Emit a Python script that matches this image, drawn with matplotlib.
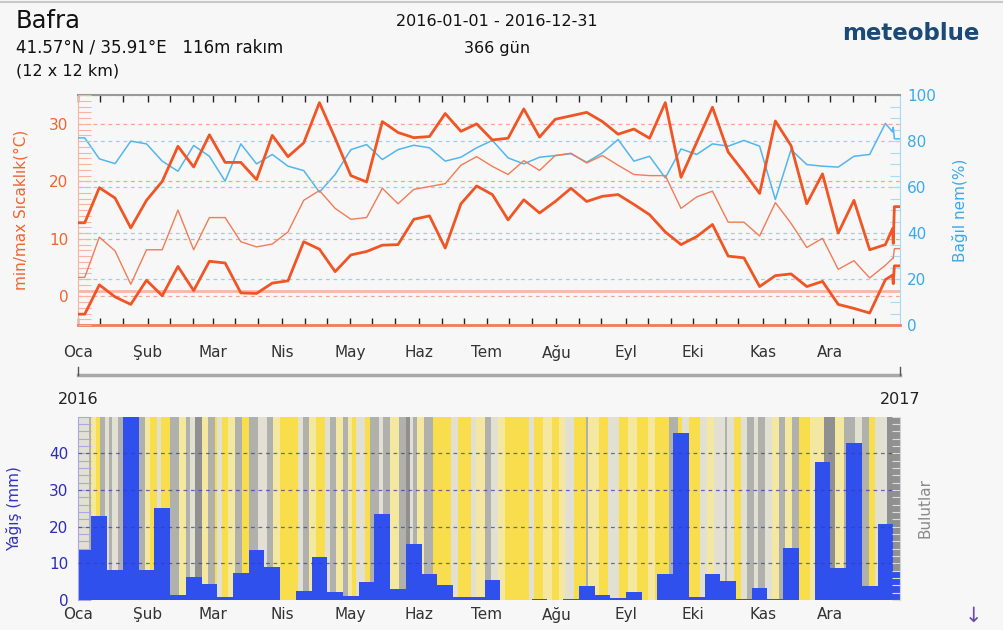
import numpy as np
import matplotlib
matplotlib.use('Agg')
import matplotlib.pyplot as plt
from matplotlib.colors import ListedColormap
from matplotlib.lines import Line2D
from matplotlib.ticker import FixedLocator, MultipleLocator

# Aylar
aylar = ['Oca', 'Şub', 'Mar', 'Nis', 'May', 'Haz', 'Tem', 'Ağu', 'Eyl', 'Eki', 'Kas', 'Ara']
ay_baslangic = [0, 31, 60, 91, 121, 152, 182, 213, 244, 274, 305, 335]

# Haftalik kutular (gun indeksi)
hafta_kenar = np.r_[0, np.arange(6, 366, 7), 366]
hafta_orta = (hafta_kenar[:-1] + hafta_kenar[1:]) / 2
son_gunler = [362.7, 363.0, 363.5, 366.0]   # yilin son kismi

# Sicaklik (haftalik, °C)
t_max = [12.8, 18.9, 17.1, 11.9, 16.7, 20.0, 26.1, 22.5, 28.1, 23.3, 23.3, 20.3, 28.0,
         24.3, 26.7, 33.7, 27.5, 21.0, 19.9, 30.4, 28.5, 27.6, 27.8, 31.8, 28.7, 30.0,
         27.2, 27.5, 32.6, 27.7, 30.8, 31.4, 32.0, 30.4, 28.2, 29.1, 27.5, 33.7, 20.7,
         26.8, 32.9, 25.1, 21.6, 17.9, 30.5, 26.2, 16.1, 21.3, 11.0, 16.7, 8.1, 9.0]
t_max_son = [11.8, 9.2, 15.6, 15.6]
t_ort = [3.3, 10.3, 7.9, 2.1, 8.1, 8.1, 15.0, 8.1, 13.7, 13.7, 9.5, 8.6, 9.1,
         11.2, 16.7, 18.4, 15.3, 13.4, 13.7, 18.8, 16.1, 18.6, 19.1, 19.6, 22.8, 24.3,
         22.6, 21.2, 23.6, 21.9, 24.5, 24.9, 23.2, 24.5, 22.8, 21.2, 21.0, 21.0, 15.3,
         17.3, 18.3, 12.9, 12.9, 10.5, 16.3, 12.7, 8.5, 10.1, 4.7, 6.2, 3.2, 5.4]
t_ort_son = [6.6, 6.6, 8.3, 8.3]
t_min = [-3.1, 2.0, -0.1, -1.4, 2.8, 0.1, 5.2, 1.0, 6.1, 5.8, 0.6, 0.5, 2.3,
         2.7, 9.5, 8.2, 4.3, 7.2, 7.8, 8.9, 9.0, 13.4, 14.0, 8.4, 16.1, 19.2,
         17.7, 13.3, 16.8, 14.5, 16.5, 18.8, 16.5, 17.4, 17.7, 16.0, 14.2, 11.2, 9.0,
         10.4, 12.5, 7.0, 6.7, 1.7, 3.6, 3.9, 1.7, 2.6, -1.4, -2.1, -2.9, 2.9]
t_min_son = [3.7, 2.2, 5.3, 5.3]

# Bagil nem (%)
nem = [81.4, 72.3, 70.2, 80.0, 78.8, 71.3, 66.9, 78.1, 73.4, 62.6, 78.8, 70.1, 74.2,
       69.1, 67.2, 57.8, 65.5, 76.3, 78.5, 72.0, 76.3, 78.2, 77.1, 71.3, 73.0, 77.1,
       80.3, 72.7, 70.1, 73.0, 73.7, 74.5, 70.8, 74.9, 80.7, 71.3, 73.4, 64.0, 76.6,
       74.2, 78.8, 77.8, 80.3, 77.8, 54.6, 76.3, 69.8, 69.1, 68.7, 73.4, 74.2, 87.7]
nem_son = [84.0, 86.0, 81.0, 81.0]

# Yagis (mm, haftalik)
yagis = [13.7, 23.0, 8.2, 50.0, 8.3, 25.0, 1.3, 6.3, 4.3, 0.9, 7.3, 13.7, 8.9,
         0.0, 2.5, 11.6, 2.1, 1.1, 4.9, 23.5, 3.0, 15.4, 7.2, 4.1, 0.9, 0.9,
         5.4, 0.0, 0.0, 0.2, 0.0, 0.2, 3.8, 1.3, 0.6, 2.1, 0.0, 7.0, 45.6,
         0.9, 7.0, 5.1, 0.2, 3.2, 0.2, 14.3, 0.0, 37.6, 8.8, 42.7, 3.8, 20.8, 7.9]

# Bulutluluk (0 = gunesli ... 4 = kapali), (kod, gun sayisi)
bulut_seri = [(2, 5), (3, 1), (1, 2), (0, 2), (3, 2), (2, 2), (3, 1), (2, 3), (3, 2), (3, 3),
              (2, 2), (3, 3), (3, 2), (1, 2), (0, 3), (2, 2), (0, 4), (3, 4), (1, 3), (3, 2),
              (2, 2), (4, 3), (1, 3), (3, 3), (0, 1), (2, 2), (0, 3), (1, 3), (3, 3), (0, 3),
              (3, 4), (2, 4), (3, 3), (1, 3), (0, 8), (2, 2), (3, 3), (1, 3), (0, 4), (2, 2),
              (3, 3), (1, 3), (3, 2), (1, 2), (0, 2), (2, 4), (0, 2), (3, 4), (2, 2), (3, 3),
              (1, 4), (3, 3), (4, 2), (2, 1), (3, 2), (1, 3), (3, 4), (0, 8), (2, 3), (0, 6),
              (2, 2), (1, 4), (3, 3), (2, 3), (1, 3), (0, 11), (2, 2), (0, 4), (1, 4), (0, 3),
              (1, 3), (2, 4), (0, 5), (3, 1), (1, 5), (0, 4), (2, 5), (0, 4), (1, 4), (0, 5),
              (1, 3), (0, 6), (3, 4), (0, 2), (2, 3), (0, 5), (2, 3), (1, 3), (2, 5), (3, 1),
              (2, 3), (0, 3), (2, 3), (3, 3), (2, 2), (3, 3), (2, 3), (1, 3), (3, 3), (1, 3),
              (3, 3), (0, 5), (1, 6), (4, 5), (1, 4), (3, 5), (2, 3), (3, 3), (0, 3), (2, 5),
              (4, 6)]
bulut_renk = ['#f8de4c', '#f4e8a0', '#e2dfd3', '#b0b0ad', '#909090']

BG = '#f7f7f7'
TURUNCU = '#f05523'
TURUNCU_INCE = '#f37b55'
MAVI = '#52b6ee'

fig = plt.figure(figsize=(10.04, 6.30), dpi=100, facecolor=BG)

# ---------------- Ust panel: sicaklik + nem ----------------
ax_nem = fig.add_axes([0.0777, 0.484, 0.8187, 0.365], facecolor=BG)
ax1 = ax_nem.twinx()
ax1.set_zorder(ax_nem.get_zorder() + 1)
ax1.patch.set_visible(False)
# ax1 -> sol eksen (sicaklik), ax_nem -> sag eksen (nem)
ax1.yaxis.tick_left()
ax1.yaxis.set_label_position('left')
ax_nem.yaxis.tick_right()
ax_nem.yaxis.set_label_position('right')

ax1.set_xlim(0, 366)
ax1.set_ylim(-5, 35)
ax_nem.set_ylim(0, 100)

gun_t = np.r_[0, hafta_orta[:len(t_max)], son_gunler]

for h in [20, 40, 60, 80, 100]:
    ax_nem.axhline(h, color='#92d2f5', lw=0.9, ls=(0, (3, 3)), zorder=1)
ax_nem.plot(gun_t, np.r_[nem[0], nem, nem_son], color=MAVI, lw=1.1, zorder=3)

for t in [0, 10, 20, 30]:
    ax1.axhline(t, color='#f6a58c', lw=0.9, ls=(0, (3, 3)), zorder=1)
ax1.axhline(1.0, color='#f8b8a2', lw=2.0, zorder=1)

ax1.plot(gun_t, np.r_[t_ort[0], t_ort, t_ort_son], color=TURUNCU_INCE, lw=1.0, zorder=3)
ax1.plot(gun_t, np.r_[t_max[0], t_max, t_max_son], color=TURUNCU, lw=2.0, zorder=4)
ax1.plot(gun_t, np.r_[t_min[0], t_min, t_min_son], color=TURUNCU, lw=2.0, zorder=4)

# x ekseni
ara_gunler = [b + d for b in ay_baslangic for d in (10, 20)]
for a in (ax1, ax_nem):
    a.xaxis.set_major_locator(FixedLocator(ay_baslangic))
    a.xaxis.set_minor_locator(FixedLocator(ara_gunler))
ax_nem.set_xticklabels(aylar)
ax_nem.tick_params(axis='x', which='both', direction='in', top=True, bottom=True,
                   length=5, width=1, color='#222222', labelsize=11, pad=14,
                   labelcolor='#333333')

# sol eksen (sicaklik)
ax1.set_yticks([0, 10, 20, 30])
ax1.yaxis.set_minor_locator(MultipleLocator(1))
ax1.tick_params(axis='y', which='both', direction='in', length=9, width=0.8,
                color='#f9b4a0', labelcolor='#f06432', labelsize=11, pad=7)
ax1.set_ylabel('min/max Sıcaklık(°C)', color='#f06432', fontsize=11)
ax1.yaxis.set_label_coords(-0.060, 0.5)

# sag eksen (nem)
ax_nem.set_yticks([0, 20, 40, 60, 80, 100])
ax_nem.yaxis.set_minor_locator(MultipleLocator(5))
ax_nem.tick_params(axis='y', which='both', direction='in', length=7, width=0.8,
                   color='#a6dbf5', labelcolor='#3aa9ee', labelsize=11, pad=5)
ax_nem.set_ylabel('Bağıl nem(%)', color='#3aa9ee', fontsize=11)
ax_nem.yaxis.set_label_coords(1.063, 0.5)

for s in ['left', 'right', 'top', 'bottom']:
    ax1.spines[s].set_visible(False)
ax_nem.spines['left'].set_color('#f9b4a0')
ax_nem.spines['right'].set_color('#a6dbf5')
ax_nem.spines['top'].set_color('#999999')
ax_nem.spines['top'].set_linewidth(1.5)
ax_nem.spines['bottom'].set_color(TURUNCU_INCE)
ax_nem.spines['bottom'].set_linewidth(2.0)

# ---------------- Alt panel: yagis + bulutlar ----------------
ax2 = fig.add_axes([0.0777, 0.0476, 0.8187, 0.291], facecolor=BG)
ax2.set_xlim(0, 366)
ax2.set_ylim(0, 50)

bulut_kod = np.concatenate([np.full(n, k) for k, n in bulut_seri])
ax2.pcolormesh(np.arange(len(bulut_kod) + 1), [0, 50], bulut_kod[None, :],
               cmap=ListedColormap(bulut_renk), vmin=-0.5, vmax=4.5, zorder=0)

ax2.bar(hafta_kenar[:-1], yagis, width=np.diff(hafta_kenar), align='edge',
        color='#3050ee', linewidth=0, zorder=2)

for y in [10, 20, 30, 40]:
    ax2.axhline(y, color='#3a3ab8', lw=0.9, ls=(0, (3, 3)), alpha=0.75, zorder=3)

ax2.set_xticks(ay_baslangic)
ax2.set_xticklabels(aylar)
ax2.tick_params(axis='x', length=0, labelsize=11, pad=5, labelcolor='#333333')
ax2.set_yticks([0, 10, 20, 30, 40])
ax2.yaxis.set_minor_locator(MultipleLocator(2))
ax2.tick_params(axis='y', which='both', direction='in', length=9, width=0.8,
                color='#a9a9e2', labelcolor='#2c2cb8', labelsize=11, pad=7)
ax2.set_ylabel('Yağış (mm)', color='#3434c0', fontsize=11)
ax2.yaxis.set_label_coords(-0.0675, 0.5)
for s in ['top', 'bottom']:
    ax2.spines[s].set_visible(False)
ax2.spines['left'].set_color('#a9a9e2')
ax2.spines['right'].set_color('#d0d0d0')

ax2r = ax2.twinx()
ax2r.set_ylim(0, 50)
ax2r.yaxis.set_major_locator(MultipleLocator(2))
ax2r.tick_params(axis='y', direction='in', length=6, width=0.8, color='#dcdcdc',
                 labelright=False)
for s in ['top', 'bottom', 'left', 'right']:
    ax2r.spines[s].set_visible(False)

ax2.text(1.030, 0.5, 'Bulutlar', transform=ax2.transAxes, rotation=90,
         ha='center', va='center', color='#8a8a8a', fontsize=11)

# ---------------- Basliklar ve zaman cubugu ----------------
W, H = 1004, 630
fig.add_artist(Line2D([0, 1], [1 - 2 / H] * 2, color='#c8c8c8', lw=1.5))
fig.text(16 / W, 1 - 21 / H, 'Bafra', fontsize=17.5, color='#111111', va='center')
fig.text(16 / W, 1 - 48 / H, '41.57°N / 35.91°E   116m rakım', fontsize=12,
         color='#111111', va='center')
fig.text(16 / W, 1 - 71 / H, '(12 x 12 km)', fontsize=11.5, color='#111111', va='center')
fig.text(497 / W, 1 - 21 / H, '2016-01-01 - 2016-12-31', fontsize=11.5,
         color='#111111', ha='center', va='center')
fig.text(497 / W, 1 - 48 / H, '366 gün', fontsize=11.5, color='#111111',
         ha='center', va='center')
fig.text(911 / W, 1 - 34 / H, 'meteoblue', fontsize=16.5, fontweight='bold',
         color='#1c4a78', ha='center', va='center')

y_cubuk = 1 - 375 / H
fig.add_artist(Line2D([78 / W, 900 / W], [y_cubuk] * 2, color='#a8a8a8', lw=2.5))
for xc in (78 / W, 900 / W):
    fig.add_artist(Line2D([xc, xc], [y_cubuk, y_cubuk + 8 / H], color='#555555', lw=1))
fig.text(78 / W, 1 - 400 / H, '2016', fontsize=11.5, color='#222222',
         ha='center', va='center')
fig.text(900 / W, 1 - 400 / H, '2017', fontsize=11.5, color='#222222',
         ha='center', va='center')
fig.text(973 / W, 1 - 616 / H, '↓', fontsize=15, color='#6b4ea8',
         ha='center', va='center')

fig.savefig('out.png', dpi=100, facecolor=BG)
